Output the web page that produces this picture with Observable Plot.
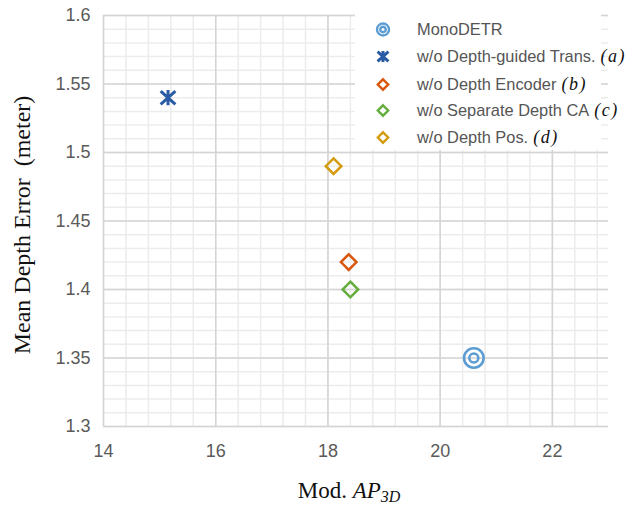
<!DOCTYPE html>
<html><head><meta charset="utf-8">
<script src="https://cdn.jsdelivr.net/npm/d3@7"></script>
<script src="https://cdn.jsdelivr.net/npm/@observablehq/plot@0.6"></script>
<style>
body{margin:0;background:#fff;}
#wrap{position:relative;width:631px;height:505px;overflow:hidden;}
#legend{position:absolute;left:355px;top:12px;width:246px;height:138px;background:#fff;
  font-family:"Liberation Sans",Arial,sans-serif;font-size:16.4px;color:#555;}
.row{position:absolute;left:0;height:27px;display:flex;align-items:center;white-space:nowrap;}
.row svg{flex:none;}
.note{font-family:"Liberation Serif","Times New Roman",serif;font-style:italic;font-size:18px;letter-spacing:1.5px;color:#111;margin-left:5px;}
</style>
</head><body>
<div id="wrap"></div>
<script>
// ---- data ----
const methods = ["MonoDETR", "w/o Depth-guided Trans.", "w/o Depth Encoder", "w/o Separate Depth CA", "w/o Depth Pos."];
const notes = ["", "(a)", "(b)", "(c)", "(d)"];
const ap3d = [20.6, 15.15, 18.37, 18.4, 18.1];
const depthErr = [1.35, 1.54, 1.42, 1.40, 1.49];
const colors = ["#5b9dd2", "#2c5ba5", "#d8570d", "#63ad3c", "#d49b0e"];
const markers = ["target", "asterisk", "diamond", "diamond", "diamond"];
const xTicks = [14, 16, 18, 20, 22];
const yTicks = [1.3, 1.35, 1.4, 1.45, 1.5, 1.55, 1.6];
const xMinor = d3.range(0, 23).map(i => +(14 + i * 0.4).toFixed(2));
const yMinor = d3.range(0, 31).map(i => +(1.3 + i * 0.01).toFixed(2));

// ---- custom symbols ----
const symbols = {
  target: {draw(ctx, size) {
    const r = Math.sqrt(size / Math.PI), r2 = r * 0.46;
    ctx.moveTo(r, 0); ctx.arc(0, 0, r, 0, 2 * Math.PI);
    ctx.moveTo(r2, 0); ctx.arc(0, 0, r2, 0, 2 * Math.PI);
  }},
  asterisk: {draw(ctx, size) {
    const r = Math.sqrt(size / Math.PI);
    ctx.moveTo(0, -r); ctx.lineTo(0, r);
    ctx.moveTo(-r * 0.97, -r * 0.87); ctx.lineTo(r * 0.97, r * 0.87);
    ctx.moveTo(-r * 0.97, r * 0.87); ctx.lineTo(r * 0.97, -r * 0.87);
  }},
  diamond: {draw(ctx, size) {
    const r = Math.sqrt(size / Math.PI);
    ctx.moveTo(0, -r); ctx.lineTo(r, 0); ctx.lineTo(0, r); ctx.lineTo(-r, 0); ctx.closePath();
  }}
};
const plotR = {target: 9.8, asterisk: 7.6, diamond: 7.8};
const plotSW = {target: 2.6, asterisk: 3, diamond: 2.5};
const legR = {target: 6, asterisk: 5.6, diamond: 5.2};
const legSW = {target: 2.4, asterisk: 3, diamond: 2.4};

const dots = methods.map((m, i) => Plot.dot([i], {
  x: j => ap3d[j], y: j => depthErr[j],
  symbol: symbols[markers[i]], r: plotR[markers[i]],
  stroke: colors[i], strokeWidth: plotSW[markers[i]], fill: "none"
}));

const plot = Plot.plot({
  width: 631, height: 505,
  marginLeft: 103, marginRight: 23, marginTop: 15, marginBottom: 79,
  x: {domain: [14, 23], label: null},
  y: {domain: [1.3, 1.6], label: null},
  style: {fontFamily: "'Liberation Sans', Arial, sans-serif", fontSize: "18px", color: "#5a5a5a", background: "#fff"},
  marks: [
    Plot.gridX(xMinor, {stroke: "#ececec", strokeOpacity: 1, strokeWidth: 1.5}),
    Plot.gridY(yMinor, {stroke: "#ececec", strokeOpacity: 1, strokeWidth: 1.5}),
    Plot.gridX(xTicks, {stroke: "#d4d4d4", strokeOpacity: 1, strokeWidth: 1.5}),
    Plot.gridY(yTicks, {stroke: "#d4d4d4", strokeOpacity: 1, strokeWidth: 1.5}),
    Plot.axisX(xTicks, {tickSize: 0, tickPadding: 18, label: null, fontSize: 18, tickFormat: d => String(d), fill: "#5a5a5a"}),
    Plot.axisY(yTicks, {tickSize: 0, tickPadding: 13, label: null, fontSize: 18, tickFormat: d => String(d), fill: "#5a5a5a"}),
    ...dots
  ]
});

const wrap = document.getElementById("wrap");
wrap.appendChild(plot);

const svg = d3.select(plot);
svg.selectAll('g[aria-label$="tick label"] text').style("font-size", "18px");

// axis titles
svg.append("text")
  .attr("transform", "translate(30,225) rotate(-90)")
  .attr("text-anchor", "middle")
  .style("font-family", "'Liberation Serif','Times New Roman',serif")
  .style("font-size", "24px").attr("fill", "#111")
  .text("Mean Depth Error\u00a0\u00a0(meter)");
const xt = svg.append("text")
  .attr("x", 349).attr("y", 498)
  .attr("text-anchor", "middle")
  .style("font-family", "'Liberation Serif','Times New Roman',serif")
  .style("font-size", "23px").attr("fill", "#111");
xt.append("tspan").text("Mod. ");
xt.append("tspan").style("font-style", "italic").text("AP");
xt.append("tspan").style("font-style", "italic").style("font-size", "16px").attr("dy", 4).text("3D");

// legend
const legend = d3.select(wrap).append("div").attr("id", "legend");
const rowTops = [17.3, 44.7, 72, 98.7, 125.3];
methods.forEach((m, i) => {
  const row = legend.append("div").attr("class", "row").style("top", (rowTops[i] - 13.5) + "px");
  const s = row.append("svg").attr("width", 62).attr("height", 27);
  const p = d3.path();
  const rr = legR[markers[i]];
  symbols[markers[i]].draw(p, Math.PI * rr * rr);
  s.append("path").attr("d", p.toString()).attr("transform", "translate(28,13.5)")
    .attr("fill", "none").attr("stroke", colors[i]).attr("stroke-width", legSW[markers[i]]);
  row.append("span").text(m);
  if (notes[i]) row.append("span").attr("class", "note").text(notes[i]);
});
</script>
</body></html>
